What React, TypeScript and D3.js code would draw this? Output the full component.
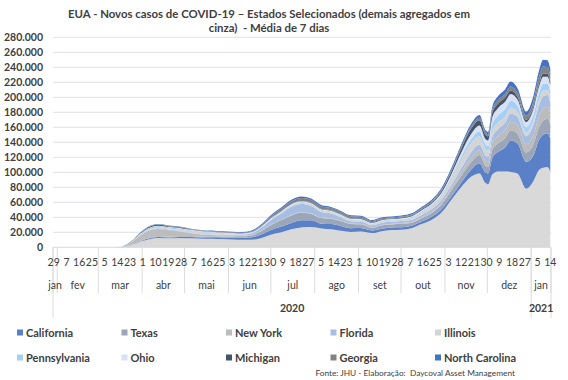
import React from "react";
import * as d3 from "d3";

// ---- Data (7-day moving average of new COVID-19 cases) ----
const dates = [
  "2020-01-29", "2020-02-15", "2020-03-01", "2020-03-10", "2020-03-17", "2020-03-24", "2020-03-31",
  "2020-04-07", "2020-04-12", "2020-04-20", "2020-04-27", "2020-05-05", "2020-05-13", "2020-05-20",
  "2020-05-27", "2020-06-03", "2020-06-10", "2020-06-17", "2020-06-24", "2020-07-01", "2020-07-08",
  "2020-07-15", "2020-07-22", "2020-07-29", "2020-08-05", "2020-08-12", "2020-08-19", "2020-08-26",
  "2020-09-02", "2020-09-10", "2020-09-17", "2020-09-24", "2020-10-01", "2020-10-08", "2020-10-15",
  "2020-10-22", "2020-10-29", "2020-11-05", "2020-11-12", "2020-11-19", "2020-11-25", "2020-11-29",
  "2020-12-01", "2020-12-04", "2020-12-08", "2020-12-13", "2020-12-17", "2020-12-22", "2020-12-28",
  "2021-01-02", "2021-01-06", "2021-01-09", "2021-01-12", "2021-01-14",
];

const demais = [
  0, 0, 0, 80, 600, 3000, 8000, 11500, 12500, 12000, 12500, 12000, 11500, 11500,
  11000, 10500, 10000, 10000, 12500, 17000, 20000, 24000, 26500, 27000, 25000, 24000,
  22000, 20500, 21000, 19000, 21500, 23000, 23500, 25500, 31000, 36500, 46000, 63000,
  80000, 94000, 98500, 86000, 84000, 97000, 101000, 101000, 100500, 98000, 78000, 88000,
  103000, 106000, 107000, 100500,
];
const california = [
  0, 0, 0, 20, 80, 250, 700, 1100, 1100, 1200, 1300, 1600, 1600, 1800, 2200, 2700, 2900,
  3300, 4800, 6500, 7800, 8500, 9500, 9000, 6500, 7000, 6500, 5000, 4800, 3500, 3300, 3500,
  3300, 3300, 3300, 4000, 4300, 4600, 6200, 9500, 13500, 14000, 14500, 22000, 26000, 32000,
  42000, 40000, 36000, 34000, 40000, 44000, 45000, 44000,
];
const texas = [
  0, 0, 0, 5, 20, 150, 500, 900, 1000, 900, 900, 1100, 1200, 1200, 1100, 1300, 1700, 2500,
  4500, 6500, 8500, 10000, 10000, 8500, 7500, 7000, 6500, 5500, 4800, 3500, 4500, 4000, 4500,
  4000, 4500, 5000, 6500, 8000, 9000, 10000, 11000, 9000, 8500, 11000, 11500, 12500, 13500,
  13000, 12500, 15000, 17000, 19000, 19500, 19000,
];
const newYork = [
  0, 0, 0, 30, 300, 3500, 7500, 9500, 9800, 8500, 6500, 4000, 2500, 2000, 1500, 1200, 900,
  700, 650, 650, 600, 700, 750, 700, 650, 650, 650, 650, 700, 750, 800, 900, 1200, 1400, 1400,
  1600, 2000, 2700, 4300, 5500, 6000, 6300, 6500, 8500, 10000, 10500, 11500, 11500, 11000,
  12500, 14500, 16500, 16000, 15000,
];
const florida = [
  0, 0, 0, 5, 50, 300, 800, 1100, 1100, 900, 700, 600, 600, 700, 700, 900, 1300, 2200, 3800,
  6500, 8500, 11000, 11000, 10000, 7500, 6500, 4500, 3000, 3000, 2500, 2700, 2600, 2500, 2500,
  3000, 3500, 4000, 4500, 5500, 7500, 8000, 7500, 7500, 8500, 9000, 10000, 11000, 11000, 10500,
  13500, 15000, 16000, 15500, 15000,
];
const illinois = [
  0, 0, 0, 5, 30, 200, 800, 1200, 1400, 1500, 2000, 2400, 2600, 2300, 2000, 1500, 900, 700,
  650, 800, 900, 1000, 1300, 1500, 1700, 1800, 1900, 1900, 1900, 1700, 1900, 1900, 2000, 2400,
  3200, 3800, 5000, 8000, 11500, 12000, 11000, 9000, 8000, 8500, 8500, 8000, 7500, 6500, 5500,
  6000, 7000, 7500, 7000, 6500,
];
const pennsylvania = [
  0, 0, 0, 5, 30, 250, 900, 1400, 1500, 1400, 1300, 1000, 800, 700, 600, 500, 450, 450, 450,
  600, 700, 800, 900, 900, 800, 750, 700, 650, 700, 700, 800, 800, 900, 1100, 1300, 1700, 2000,
  2600, 4000, 5500, 6500, 6000, 6000, 8500, 9500, 10000, 9500, 8500, 7000, 7500, 8500, 9000,
  8500, 8000,
];
const ohio = [
  0, 0, 0, 3, 20, 100, 300, 400, 450, 600, 700, 600, 550, 550, 500, 450, 400, 450, 600, 900,
  1100, 1300, 1300, 1200, 1100, 1000, 950, 1000, 1000, 1000, 1000, 1000, 1000, 1200, 1700,
  2000, 2600, 3800, 5500, 7000, 7800, 7000, 7500, 9000, 10000, 10000, 9000, 8000, 6500, 7500,
  9000, 9500, 9000, 8500,
];
const michigan = [
  0, 0, 0, 3, 30, 300, 900, 1300, 1100, 900, 700, 450, 400, 350, 300, 250, 250, 250, 300, 400,
  500, 600, 650, 700, 700, 700, 700, 700, 750, 700, 800, 800, 900, 1000, 1300, 1600, 2500, 3500,
  5500, 7000, 7000, 6000, 5500, 6000, 6000, 5500, 4500, 3500, 3000, 3500, 4000, 4200, 4000, 3800,
];
const georgia = [
  0, 0, 0, 3, 20, 150, 500, 700, 750, 700, 700, 650, 600, 600, 650, 700, 700, 900, 1400, 2300,
  3000, 3500, 3800, 3700, 3400, 3000, 2700, 2500, 2200, 1800, 1500, 1300, 1200, 1300, 1300,
  1500, 1800, 2200, 2500, 3000, 3500, 3000, 3000, 4000, 4500, 5000, 5500, 5500, 5500, 7000,
  9000, 9500, 9000, 8800,
];
const northCarolina = [
  0, 0, 0, 2, 10, 60, 200, 300, 350, 350, 400, 450, 500, 600, 700, 800, 900, 1000, 1300, 1500,
  1700, 1900, 2000, 1800, 1600, 1500, 1400, 1200, 1200, 1100, 1200, 1300, 1400, 1600, 1900,
  2000, 2200, 2500, 2800, 3300, 3500, 3000, 3000, 4500, 5500, 6000, 6500, 6000, 5500, 7000,
  8500, 9000, 9000, 8500,
];

const stateNames = [
  "California", "Texas", "New York", "Florida", "Illinois",
  "Pennsylvania", "Ohio", "Michigan", "Georgia", "North Carolina",
];
const stateValues = [
  california, texas, newYork, florida, illinois,
  pennsylvania, ohio, michigan, georgia, northCarolina,
];
const stateColors = [
  "#5a80c8", "#9ba6b9", "#bcbcbc", "#a8bde2", "#d4d4d4",
  "#a4cff6", "#d7e1f3", "#44546a", "#838383", "#4472c4",
];
const othersColor = "#d9d9d9";

const yTicks = [0, 20000, 40000, 60000, 80000, 100000, 120000, 140000, 160000, 180000, 200000, 220000, 240000, 260000, 280000];

const dayTickDates = [
  "2020-01-29", "2020-02-07", "2020-02-16", "2020-02-25", "2020-03-05", "2020-03-14", "2020-03-23",
  "2020-04-01", "2020-04-10", "2020-04-19", "2020-04-28", "2020-05-07", "2020-05-16", "2020-05-25",
  "2020-06-03", "2020-06-12", "2020-06-21", "2020-06-30", "2020-07-09", "2020-07-18", "2020-07-27",
  "2020-08-05", "2020-08-14", "2020-08-23", "2020-09-01", "2020-09-10", "2020-09-19", "2020-09-28",
  "2020-10-07", "2020-10-16", "2020-10-25", "2020-11-03", "2020-11-12", "2020-11-21", "2020-11-30",
  "2020-12-09", "2020-12-18", "2020-12-27", "2021-01-05", "2021-01-14",
];
const monthLabels = ["jan", "fev", "mar", "abr", "mai", "jun", "jul", "ago", "set", "out", "nov", "dez", "jan"];
const monthStarts = [
  "2020-01-29", "2020-02-01", "2020-03-01", "2020-04-01", "2020-05-01", "2020-06-01", "2020-07-01",
  "2020-08-01", "2020-09-01", "2020-10-01", "2020-11-01", "2020-12-01", "2021-01-01",
];
const yearLabels = ["2020", "2021"];
const yearStarts = ["2020-01-29", "2021-01-01"];
const axisStart = "2020-01-29";
const axisEnd = "2021-01-15";

const parse = d3.timeParse("%Y-%m-%d");
const fmt = (v: number) => d3.format(",")(v).replace(/,/g, ".");

const FONT = "Lato, 'Open Sans', sans-serif";
const TEXT = "#404040";

export default function App() {
  const W = 568;
  const H = 380;
  const x0 = parse(axisStart)!;
  const x1 = parse(axisEnd)!;
  const x = d3.scaleTime().domain([x0, x1]).range([53, 551]);
  const y = d3.scaleLinear().domain([0, 280000]).range([247.3, 37.3]);
  const halfDay = (x(d3.timeDay.offset(x0, 1)) - x(x0)) / 2;

  const keys = ["demais", ...stateNames];
  const rows = dates.map((d, i) => {
    const r: any = { date: parse(d)!, demais: demais[i] };
    stateNames.forEach((n, j) => (r[n] = stateValues[j][i]));
    return r;
  });
  const stack = d3.stack<any>().keys(keys)(rows);
  const area = d3
    .area<any>()
    .x((d) => x(d.data.date) + halfDay)
    .y0((d) => y(d[0]))
    .y1((d) => y(d[1]))
    .curve(d3.curveMonotoneX);
  const colorOf = (k: string) => (k === "demais" ? othersColor : stateColors[stateNames.indexOf(k)]);

  const monthBounds = [...monthStarts.map((s) => x(parse(s)!)), x(x1)];
  const yearBounds = [...yearStarts.map((s) => x(parse(s)!)), x(x1)];
  const axisY = y(0);

  const legendCols = [17, 121.5, 226, 330.5, 435];
  const legendRows = [332.5, 357.5];

  return (
    <svg width={W} height={H} style={{ position: "absolute", left: 0, top: 0, background: "#fff" }}>
      <rect x={0} y={0} width={W} height={H} fill="#fff" />
      {/* title */}
      <text x={269} y={18} textAnchor="middle" fontFamily={FONT} fontWeight="bold" fontSize={11.4} fill={TEXT}>
        EUA - Novos casos de COVID-19 – Estados Selecionados (demais agregados em
      </text>
      <text x={269} y={31.5} textAnchor="middle" fontFamily={FONT} fontWeight="bold" fontSize={11.4} fill={TEXT} style={{ whiteSpace: "pre" }}>
        {"cinza)  - Média de 7 dias"}
      </text>

      {/* gridlines + y labels */}
      {yTicks.map((t) => (
        <g key={t}>
          {t > 0 && <line x1={53} x2={551} y1={y(t)} y2={y(t)} stroke="#dfe2e8" strokeWidth={1} />}
          <text x={43} y={y(t) + 3.8} textAnchor="end" fontFamily={FONT} fontWeight="bold" fontSize={10.5} fill={TEXT}>
            {fmt(t)}
          </text>
        </g>
      ))}

      {/* stacked areas */}
      {stack.map((s) => (
        <path key={s.key} d={area(s) || ""} fill={colorOf(s.key)} />
      ))}

      {/* axis line */}
      <line x1={53} x2={551} y1={axisY} y2={axisY} stroke="#d9d9d9" strokeWidth={1} />
      {monthBounds.map((b, i) => (
        <line key={"m" + i} x1={b} x2={b} y1={axisY} y2={293} stroke="#dcdcdc" strokeWidth={1} />
      ))}
      {yearBounds.map((b, i) => (
        <line key={"yb" + i} x1={b} x2={b} y1={axisY} y2={318} stroke="#dcdcdc" strokeWidth={1} />
      ))}

      {/* day labels */}
      {dayTickDates.map((s) => {
        const d = parse(s)!;
        return (
          <text key={s} x={x(d) + halfDay} y={266} textAnchor="middle" fontFamily={FONT} fontSize={10.5} fill={TEXT}>
            {d.getDate()}
          </text>
        );
      })}
      {monthLabels.map((m, i) => (
        <text key={"ml" + i} x={(monthBounds[i] + monthBounds[i + 1]) / 2} y={288.5} textAnchor="middle" fontFamily={FONT} fontSize={10.5} fill={TEXT}>
          {m}
        </text>
      ))}
      {yearLabels.map((yl, i) => (
        <text key={yl} x={(yearBounds[i] + yearBounds[i + 1]) / 2} y={312} textAnchor="middle" fontFamily={FONT} fontWeight="bold" fontSize={10.5} fill={TEXT}>
          {yl}
        </text>
      ))}

      {/* legend */}
      {stateNames.map((n, i) => {
        const cx = legendCols[i % 5];
        const cy = legendRows[Math.floor(i / 5)];
        return (
          <g key={n}>
            <rect x={cx} y={cy - 3} width={6} height={6} fill={stateColors[i]} />
            <text x={cx + 9} y={cy + 4} fontFamily={FONT} fontWeight="bold" fontSize={11} fill={TEXT}>
              {n}
            </text>
          </g>
        );
      })}

      <text x={515} y={375.5} textAnchor="end" fontFamily={FONT} fontSize={8.3} fill={TEXT} style={{ whiteSpace: "pre" }}>
        {"Fonte: JHU - Elaboração:  Daycoval Asset Management"}
      </text>
    </svg>
  );
}
